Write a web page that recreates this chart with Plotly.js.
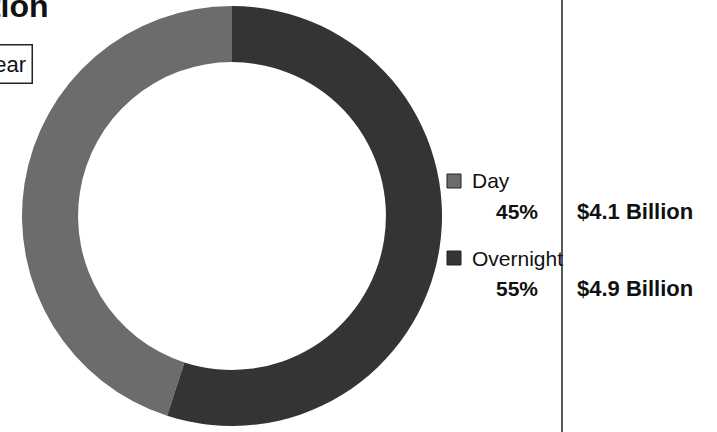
<!DOCTYPE html>
<html>
<head>
<meta charset="utf-8">
<script src="https://cdn.plot.ly/plotly-3.0.1.min.js"></script>
<style>
  html, body { margin: 0; padding: 0; background: #ffffff; }
  #chart { width: 717px; height: 432px; }
</style>
</head>
<body>
<div id="chart"></div>
<script>
// ---- data ----
const labels = ['Day', 'Overnight'];
const shares = [45, 55];            // percent
const amounts = [4.1, 4.9];         // $ billion
const titleText = 'Distribution';
const buttonText = 'Year';

// ---- style ----
const sliceColors = ['#6c6c6c', '#343434'];
const W = 717, H = 432;
const FONT = 'Liberation Sans, Arial, sans-serif';
const px = x => x / W;
const py = y => 1 - y / H;

// Day slice ends at 12 o'clock (left half), Overnight starts at 12 o'clock going clockwise
const dayStartDeg = 360 * shares[1] / (shares[0] + shares[1]);

const trace = {
  type: 'pie',
  labels: labels,
  values: shares,
  sort: false,
  direction: 'clockwise',
  rotation: dayStartDeg,
  hole: 0.733,
  textinfo: 'none',
  hoverinfo: 'label+percent',
  marker: { colors: sliceColors, line: { width: 0 } },
  domain: { x: [px(22), px(442)], y: [py(426), py(6)] },
  showlegend: false
};

const annotations = [];
const shapes = [];

// title (cut off at the left edge, as in the reference)
annotations.push({
  xref: 'paper', yref: 'paper', x: px(51), y: py(6),
  xanchor: 'right', yanchor: 'middle', showarrow: false,
  text: '<b>' + titleText + '</b>',
  font: { family: FONT, size: 32, color: '#111' }
});
// button-like box
annotations.push({
  xref: 'paper', yref: 'paper', x: px(33), y: py(64),
  xanchor: 'right', yanchor: 'middle', showarrow: false,
  text: buttonText,
  font: { family: FONT, size: 22, color: '#111' },
  bordercolor: '#222', borderwidth: 1.5, borderpad: 6, bgcolor: '#fff'
});

// custom legend built from the data arrays
const rowY = [181, 258];
labels.forEach((lab, i) => {
  const y0 = rowY[i];
  shapes.push({
    type: 'rect', xref: 'paper', yref: 'paper',
    x0: px(447), x1: px(461), y0: py(y0 - 7), y1: py(y0 + 7),
    fillcolor: sliceColors[i], line: { color: '#222', width: 1 }
  });
  annotations.push({
    xref: 'paper', yref: 'paper', x: px(470), y: py(y0),
    xanchor: 'left', yanchor: 'middle', showarrow: false,
    text: lab, font: { family: FONT, size: 21, color: '#111' }
  });
  annotations.push({
    xref: 'paper', yref: 'paper', x: px(540), y: py(y0 + 30),
    xanchor: 'right', yanchor: 'middle', showarrow: false,
    text: '<b>' + shares[i] + '%</b>', font: { family: FONT, size: 21, color: '#111' }
  });
  annotations.push({
    xref: 'paper', yref: 'paper', x: px(575), y: py(y0 + 30),
    xanchor: 'left', yanchor: 'middle', showarrow: false,
    text: '<b>$' + amounts[i].toFixed(1) + ' Billion</b>', font: { family: FONT, size: 22, color: '#111' }
  });
});

// vertical separator
shapes.push({
  type: 'line', xref: 'paper', yref: 'paper',
  x0: px(562), x1: px(562), y0: 0, y1: 1,
  line: { color: '#222', width: 1.5 }
});

const layout = {
  width: W, height: H,
  margin: { l: 0, r: 0, t: 0, b: 0 },
  paper_bgcolor: '#ffffff',
  plot_bgcolor: '#ffffff',
  font: { family: FONT },
  annotations: annotations,
  shapes: shapes,
  showlegend: false
};

Plotly.newPlot('chart', [trace], layout, { displayModeBar: false, staticPlot: true });
</script>
</body>
</html>
